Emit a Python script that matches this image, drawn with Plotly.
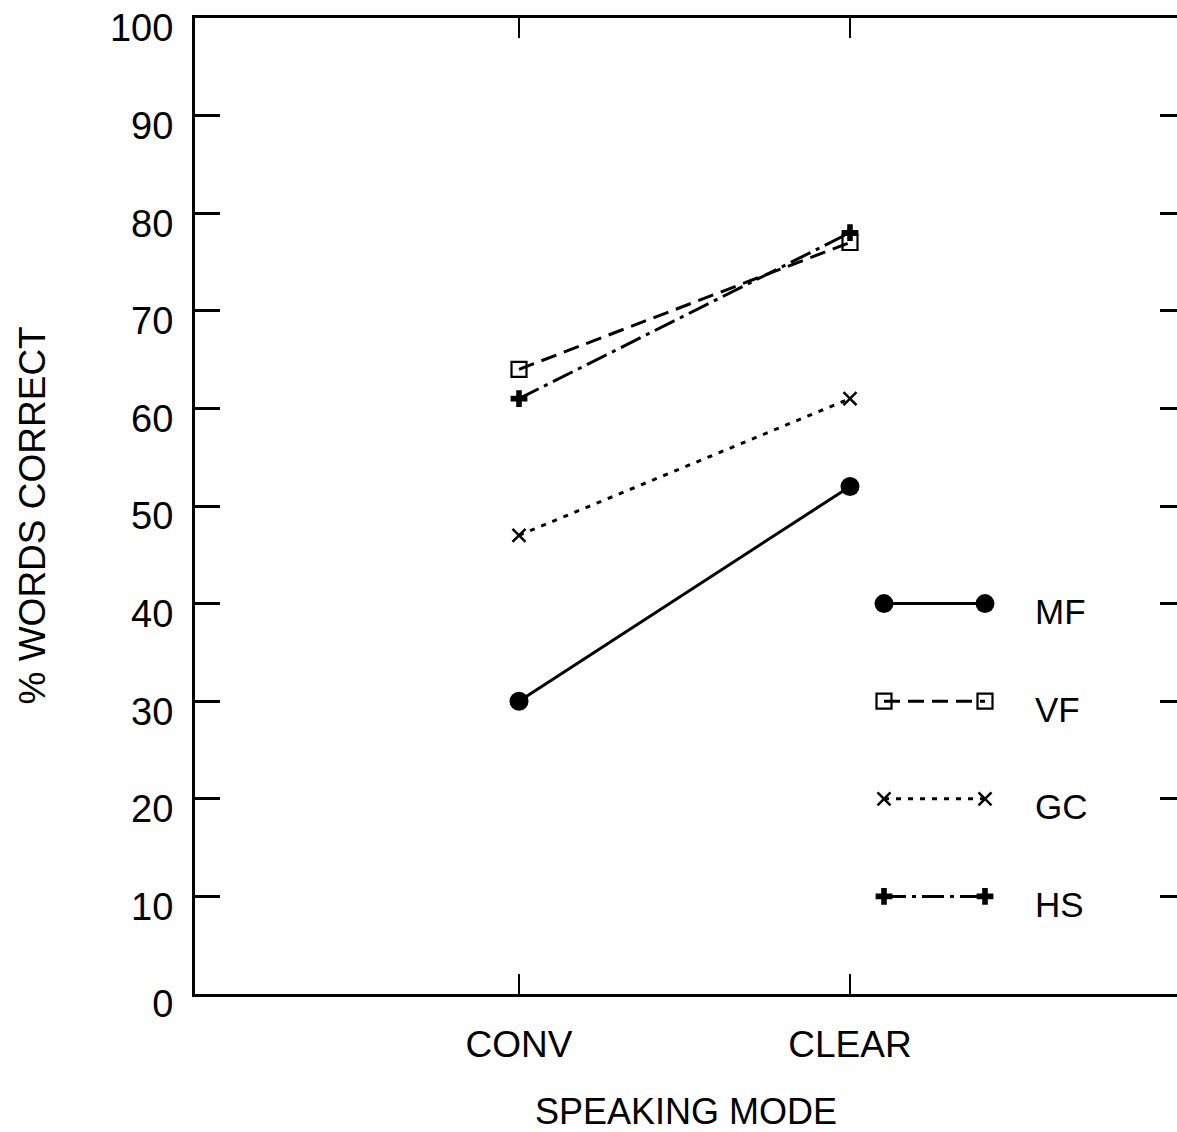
import plotly.graph_objects as go

# ---- data ----
modes = ["CONV", "CLEAR"]
series_names = ["MF", "VF", "GC", "HS"]
mf = [30, 52]
vf = [64, 77]
gc = [47, 61]
hs = [61, 78]
y_ticks = [0, 10, 20, 30, 40, 50, 60, 70, 80, 90, 100]

values = [mf, vf, gc, hs]
styles = [
    dict(symbol="circle", size=19, dash="solid", mline=0),
    dict(symbol="square-open", size=15, dash="16px,8px", mline=2.2),
    dict(symbol="x-thin-open", size=13, dash="5px,7px", mline=2.5),
    dict(symbol="cross", size=14, dash="22px,6px,4px,6px", mline=0),
]

W, H = 1177, 1132
L, T, B = 195, 18, 138
plot_w = W - L
plot_h = H - T - B

xpos = [1, 2]
x_range = [1 - 324 / 331, 2 + (plot_w - 655) / 331]

font_fam = "Liberation Sans, Arial, sans-serif"

fig = go.Figure()
for name, vals, st in zip(series_names, values, styles):
    fig.add_trace(go.Scatter(
        x=xpos, y=vals, name=name, mode="lines+markers",
        line=dict(color="black", width=3, dash=st["dash"]),
        marker=dict(symbol=st["symbol"], size=st["size"], color="black",
                    line=dict(color="black", width=st["mline"])),
        showlegend=False, cliponaxis=False,
    ))

# custom key drawn on an overlay axis: two markers joined by a line
key_x0 = (884 - L) / plot_w
key_x1 = (985 - L) / plot_w
key_tx = (1033 - L) / plot_w
for i, (name, st) in enumerate(zip(series_names, styles)):
    ky = 40 - 10 * i
    fig.add_trace(go.Scatter(
        x=[key_x0, key_x1], y=[ky, ky], mode="lines+markers",
        xaxis="x2", yaxis="y2",
        line=dict(color="black", width=3, dash=st["dash"]),
        marker=dict(symbol=st["symbol"], size=st["size"], color="black",
                    line=dict(color="black", width=st["mline"])),
        showlegend=False, hoverinfo="skip", cliponaxis=False,
    ))
    fig.add_annotation(x=key_tx, y=ky, xref="x2", yref="y2", text=name,
                       showarrow=False, xanchor="left", yanchor="middle",
                       yshift=-8,
                       font=dict(size=35, color="black", family=font_fam))

# y-axis title as annotation (placed like the original)
fig.add_annotation(
    x=0, y=(H - B - 516) / plot_h, xref="paper", yref="paper",
    text="% WORDS CORRECT", textangle=-90, showarrow=False,
    xanchor="center", yanchor="middle", xshift=31.5 - L,
    font=dict(size=37, color="black", family=font_fam),
)

fig.update_layout(
    width=W, height=H,
    margin=dict(l=L, r=0, t=T, b=B, pad=0),
    paper_bgcolor="white", plot_bgcolor="white",
    font=dict(family=font_fam, color="black"),
    xaxis=dict(
        range=x_range, tickmode="array", tickvals=xpos, ticktext=modes,
        ticks="inside", ticklen=20, tickwidth=2, tickcolor="black",
        showline=True, linewidth=3, linecolor="black", mirror="ticks",
        showgrid=False, zeroline=False,
        tickfont=dict(size=37, family=font_fam),
        title=dict(text="SPEAKING MODE", font=dict(size=36, family=font_fam), standoff=40),
        ticklabelstandoff=16, automargin=False,
    ),
    yaxis=dict(
        range=[0, 100], tickmode="array", tickvals=y_ticks,
        ticks="inside", ticklen=25, tickwidth=3, tickcolor="black",
        showline=True, linewidth=3, linecolor="black", mirror=False,
        showgrid=False, zeroline=False,
        tickfont=dict(size=38, family=font_fam),
        ticklabelstandoff=11, ticklabelshift=10,
        ticklabeloverflow="allow", automargin=False,
    ),
    xaxis2=dict(range=[0, 1], overlaying="x", visible=False, fixedrange=True),
    yaxis2=dict(
        range=[0, 100], overlaying="y", side="right", tickmode="array",
        tickvals=y_ticks[1:-1], ticks="inside", ticklen=17, tickwidth=3,
        tickcolor="black", showline=False, showticklabels=False,
        showgrid=False, zeroline=False, automargin=False,
    ),
    showlegend=False,
)

fig.write_html("out.html", config={"displayModeBar": False},
               post_script="document.body.style.margin='0px';")
